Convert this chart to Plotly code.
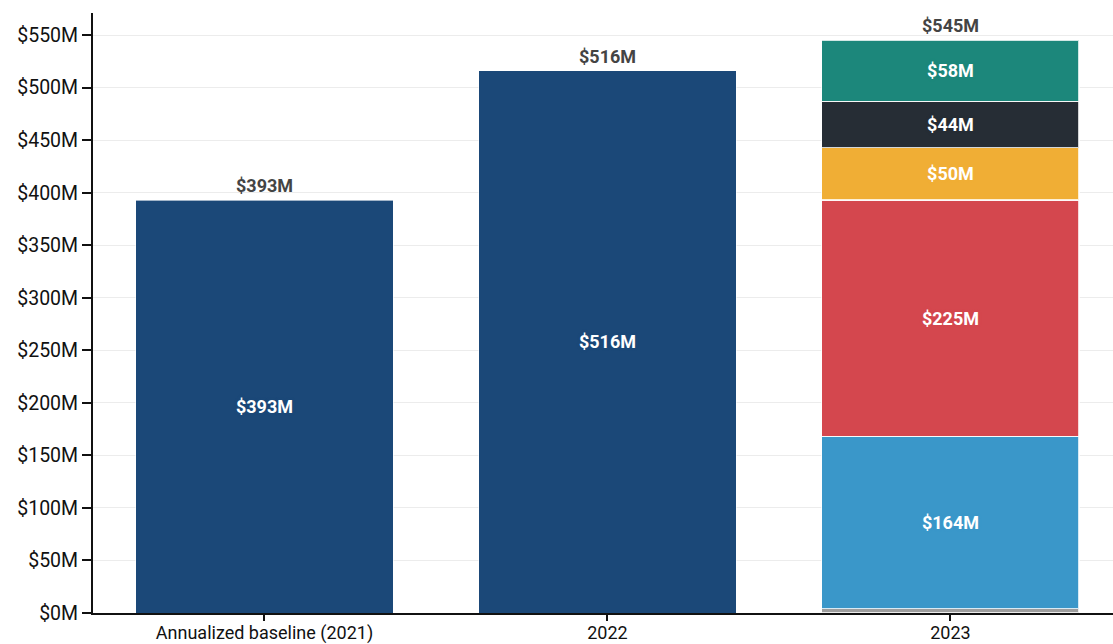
import plotly.graph_objects as go

categories = ["Annualized baseline (2021)", "2022", "2023"]
totals = [393, 516, 545]

# single-colour bars for the first two categories
base_cats = ["Annualized baseline (2021)", "2022"]
base_vals = [393, 516]

# 2023 stacked components (bottom to top)
seg_names = ["Other", "Component A", "Component B", "Component C", "Component D", "Component E"]
seg_vals = [4, 164, 225, 50, 44, 58]
seg_labels = ["", "$164M", "$225M", "$50M", "$44M", "$58M"]
seg_colors = ["#9e9e9e", "#3a97c9", "#d4474e", "#f0ae35", "#262d35", "#1c877b"]
base_color = "#1b4878"

FONT = "Roboto"
YTICK_SIZE = 19.5
XTICK_SIZE = 18
LABEL_SIZE = 18

fig = go.Figure()

fig.add_trace(go.Bar(
    x=base_cats, y=base_vals,
    text=[f"${v}M" for v in base_vals],
    textposition="inside", insidetextanchor="middle",
    textfont=dict(family=FONT, size=LABEL_SIZE, color="white", weight="bold",
                  shadow=f"0px 0px 3px {base_color}"),
    marker=dict(color=base_color, line=dict(color="rgba(255,255,255,0.6)", width=1)),
    width=0.75, showlegend=False, cliponaxis=False,
))

for name, v, lab, col in zip(seg_names, seg_vals, seg_labels, seg_colors):
    fig.add_trace(go.Bar(
        x=["2023"], y=[v], name=name,
        text=[lab], textposition="inside", insidetextanchor="middle",
        textfont=dict(family=FONT, size=LABEL_SIZE, color="white", weight="bold",
                      shadow=f"0px 0px 3px {col}"),
        marker=dict(color=col, line=dict(color="rgba(255,255,255,0.8)", width=1.2)),
        width=0.75, showlegend=False,
    ))

for i, tot in enumerate(totals):
    fig.add_annotation(
        x=i, y=tot, xref="x", yref="y", text=f"${tot}M", showarrow=False,
        yanchor="bottom", yshift=2,
        font=dict(family=FONT, size=LABEL_SIZE, color="#444444", weight="bold"),
    )

fig.update_layout(
    width=1113, height=644,
    margin=dict(l=93, r=0, t=13, b=31),
    barmode="stack",
    plot_bgcolor="white", paper_bgcolor="white",
    font=dict(family=FONT, size=YTICK_SIZE, color="#111111"),
    uniformtext=dict(mode="show", minsize=10),
)
fig.update_xaxes(
    type="category", categoryorder="array", categoryarray=categories,
    range=[-0.5, 2.474], automargin=False,
    showline=True, linecolor="#111111", linewidth=2,
    ticks="outside", ticklen=6, tickcolor="#111111", tickwidth=2,
    tickfont=dict(family=FONT, size=XTICK_SIZE, color="#111111"),
    ticklabelstandoff=-4,
    showgrid=False,
)
fig.update_yaxes(
    range=[0, 571], automargin=False,
    tickvals=[0, 50, 100, 150, 200, 250, 300, 350, 400, 450, 500, 550],
    ticktext=["$0M", "$50M", "$100M", "$150M", "$200M", "$250M", "$300M",
              "$350M", "$400M", "$450M", "$500M", "$550M"],
    showline=True, linecolor="#111111", linewidth=2,
    ticks="outside", ticklen=9, tickcolor="#111111", tickwidth=2,
    tickfont=dict(family=FONT, size=YTICK_SIZE, color="#111111"),
    showgrid=True, gridcolor="#ececec", gridwidth=1,
    zeroline=False,
)

fig.write_html("out.html")
